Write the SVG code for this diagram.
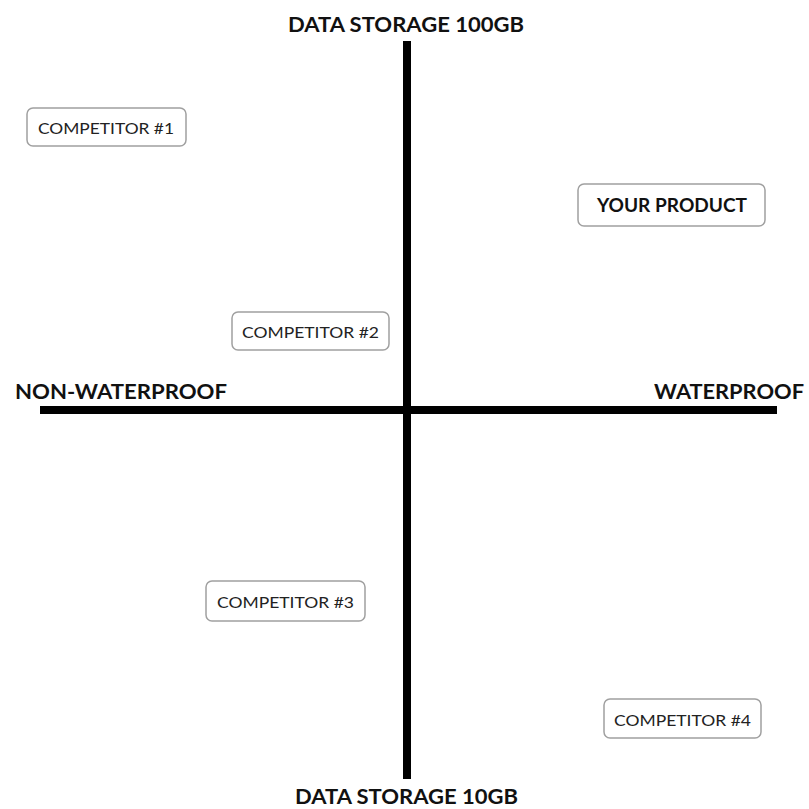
<svg xmlns="http://www.w3.org/2000/svg" width="809" height="809" viewBox="0 0 809 809">
<style>
.box{fill:#fff;stroke:#a0a0a0;stroke-width:1.5}
.lbl{font-family:Lato,"Liberation Sans",sans-serif;font-size:16px;fill:#222;text-anchor:middle}
.bold{font-family:Lato,"Liberation Sans",sans-serif;font-weight:bold;fill:#111}
.axis{stroke:#000;stroke-width:8;fill:none}
</style>
<rect width="809" height="809" fill="#fff"/>
<g id="axes">
<line class="axis" x1="407" y1="41" x2="407" y2="779"/>
<line class="axis" x1="40" y1="410" x2="777" y2="410"/>
</g>
<g id="axis-labels">
<text class="bold" x="406" y="32" font-size="21" text-anchor="middle" textLength="236" lengthAdjust="spacingAndGlyphs">DATA STORAGE 100GB</text>
<text class="bold" x="406.5" y="804" font-size="21" text-anchor="middle" textLength="223" lengthAdjust="spacingAndGlyphs">DATA STORAGE 10GB</text>
<text class="bold" x="15" y="399" font-size="21" textLength="212" lengthAdjust="spacingAndGlyphs">NON-WATERPROOF</text>
<text class="bold" x="804" y="399" font-size="21" text-anchor="end" textLength="150" lengthAdjust="spacingAndGlyphs">WATERPROOF</text>
</g>
<g id="competitor1">
<rect class="box" x="27" y="108" width="159" height="38" rx="6"/>
<text class="lbl" x="106" y="134" textLength="136" lengthAdjust="spacingAndGlyphs">COMPETITOR #1</text>
</g>
<g id="your-product">
<rect class="box" x="578" y="184" width="187" height="42" rx="6"/>
<text class="bold" x="672" y="212" font-size="18" text-anchor="middle" textLength="150" lengthAdjust="spacingAndGlyphs">YOUR PRODUCT</text>
</g>
<g id="competitor2">
<rect class="box" x="232" y="312" width="157" height="38" rx="6"/>
<text class="lbl" x="310.5" y="338" textLength="137" lengthAdjust="spacingAndGlyphs">COMPETITOR #2</text>
</g>
<g id="competitor3">
<rect class="box" x="206" y="581" width="159" height="40" rx="6"/>
<text class="lbl" x="285.5" y="608" textLength="137" lengthAdjust="spacingAndGlyphs">COMPETITOR #3</text>
</g>
<g id="competitor4">
<rect class="box" x="604" y="699" width="157" height="39" rx="6"/>
<text class="lbl" x="682.5" y="726" textLength="137" lengthAdjust="spacingAndGlyphs">COMPETITOR #4</text>
</g>
</svg>
